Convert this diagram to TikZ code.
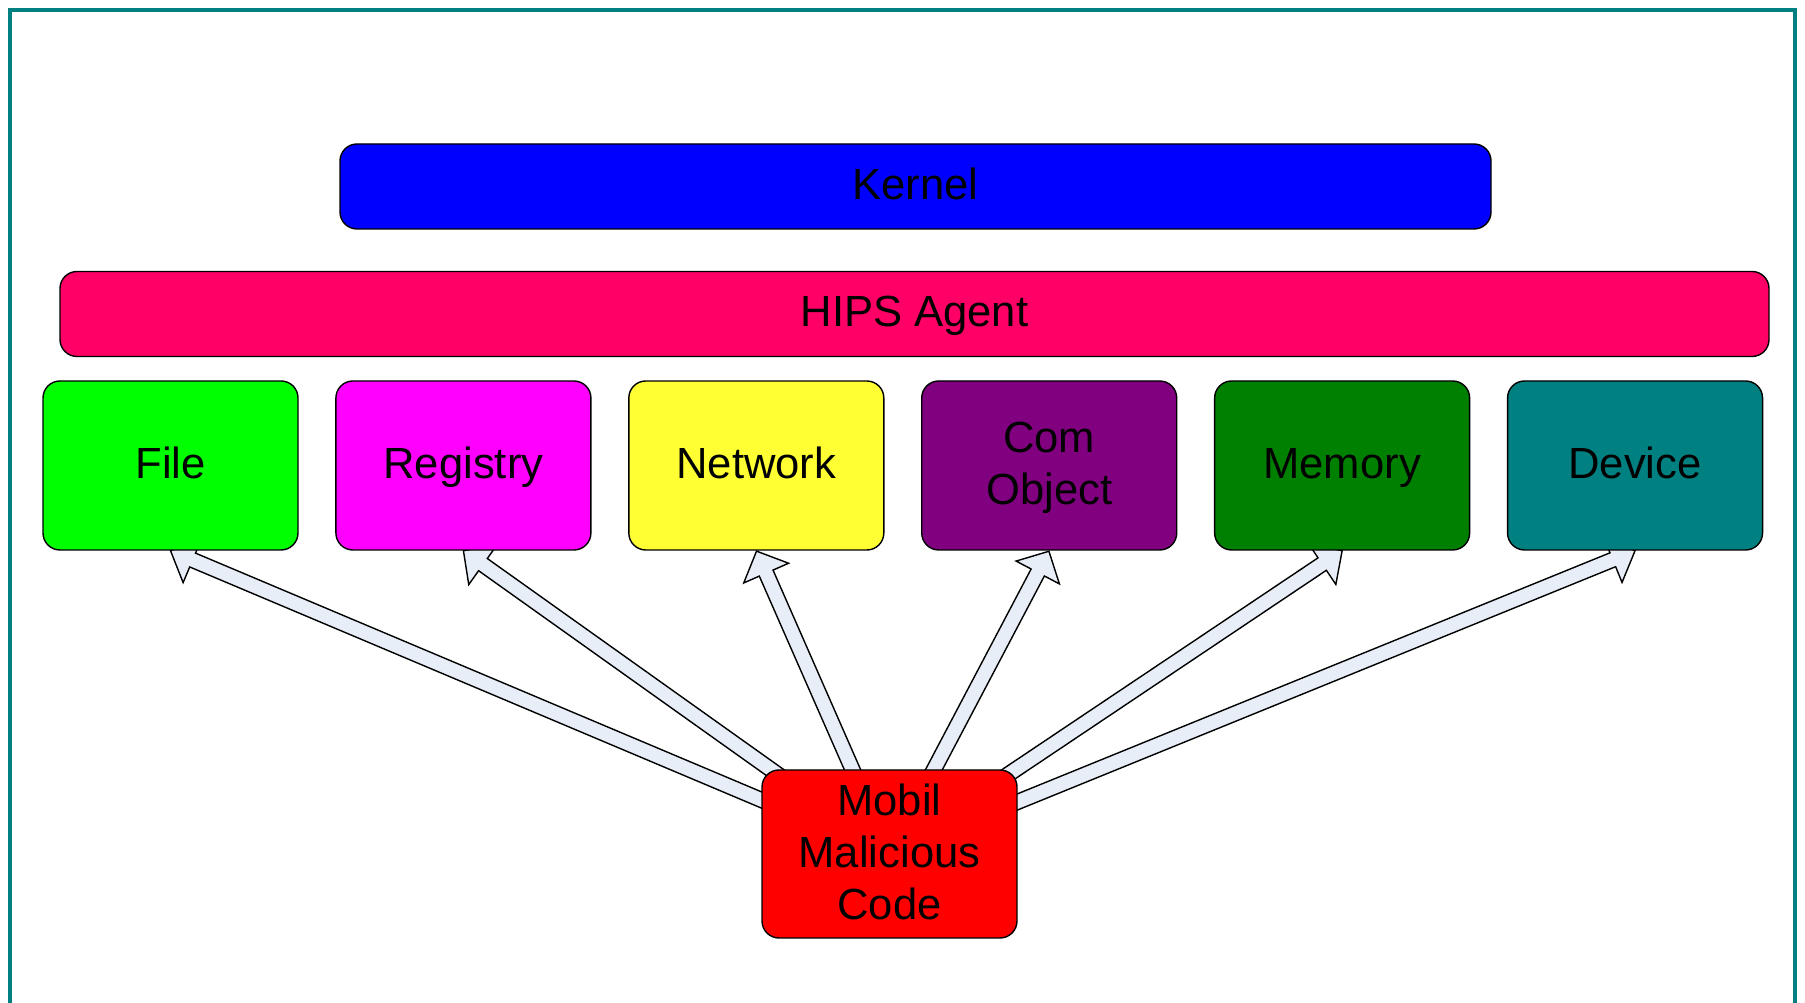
\documentclass[tikz,border=0pt]{standalone}
\usepackage{fontspec}
\setmainfont{Liberation Sans}
\usetikzlibrary{positioning,calc,backgrounds}

\definecolor{kernelblue}{HTML}{0000FF}
\definecolor{hipsred}{HTML}{FF0066}
\definecolor{filegreen}{HTML}{00FF00}
\definecolor{regmagenta}{HTML}{FF00FF}
\definecolor{netyellow}{HTML}{FFFF33}
\definecolor{compurple}{HTML}{800080}
\definecolor{memgreen}{HTML}{008000}
\definecolor{devteal}{HTML}{008080}
\definecolor{malred}{HTML}{FF0000}
\definecolor{arrowfill}{HTML}{E8EEF7}
\definecolor{frameteal}{HTML}{008080}

\begin{document}
\begin{tikzpicture}[
    node distance=0.365cm,
    layer/.style={draw, rounded corners=0.17cm, minimum height=0.85cm,
      font=\fontsize{12.4}{14.8}\selectfont, text depth=1.3pt},
    target/.style={draw, rounded corners=0.17cm, align=center, minimum width=2.55cm,
      minimum height=1.69cm, inner sep=1pt, font=\fontsize{12.4}{14.8}\selectfont,
      text depth=1.3pt},
    hitarrow/.style={draw=black, line width=0.4pt, fill=arrowfill, line join=miter}
  ]
    \useasboundingbox (0,0) rectangle (18.05,-10.03);
    \draw[frameteal, line width=0.045cm] (0.1,-10.6) -- (0.1,-0.1) -- (17.95,-0.1) -- (17.95,-10.6);

    \node[layer, fill=kernelblue, minimum width=11.51cm] (kernel) at (9.155,-1.865) {Kernel};
    \node[layer, fill=hipsred, minimum width=17.09cm] (hips) at (9.145,-3.14) {HIPS Agent};

    \node[target, fill=filegreen] (file) at (1.705,-4.655) {File};
    \node[target, fill=regmagenta, right=of file] (registry) {Registry};
    \node[target, fill=netyellow, right=of registry] (network) {Network};
    \node[target, fill=compurple, right=of network] (com) {Com\\Object};
    \node[target, fill=memgreen, right=of com] (memory) {Memory};
    \node[target, fill=devteal, right=of memory] (device) {Device};

    \node[target, fill=malred, minimum height=1.68cm] (mal) at (8.895,-8.54) {Mobil\\Malicious\\Code};

    \begin{scope}[on background layer]
      \foreach \t in {file,registry,network,com,memory,device}
        \draw[hitarrow] let \p1=(mal.center), \p2=(\t.south),
            \n1={atan2(\y2-\y1,\x2-\x1)}, \n2={veclen(\x2-\x1,\y2-\y1)} in
          [shift={(\p1)}, rotate=\n1]
          (0,-0.075cm) -- ({\n2-0.24cm},-0.075cm) -- ({\n2-0.24cm},-0.245cm)
          -- ({\n2},0cm) -- ({\n2-0.24cm},0.245cm) -- ({\n2-0.24cm},0.075cm)
          -- (0,0.075cm) -- cycle;
    \end{scope}
  \end{tikzpicture}
\end{document}
